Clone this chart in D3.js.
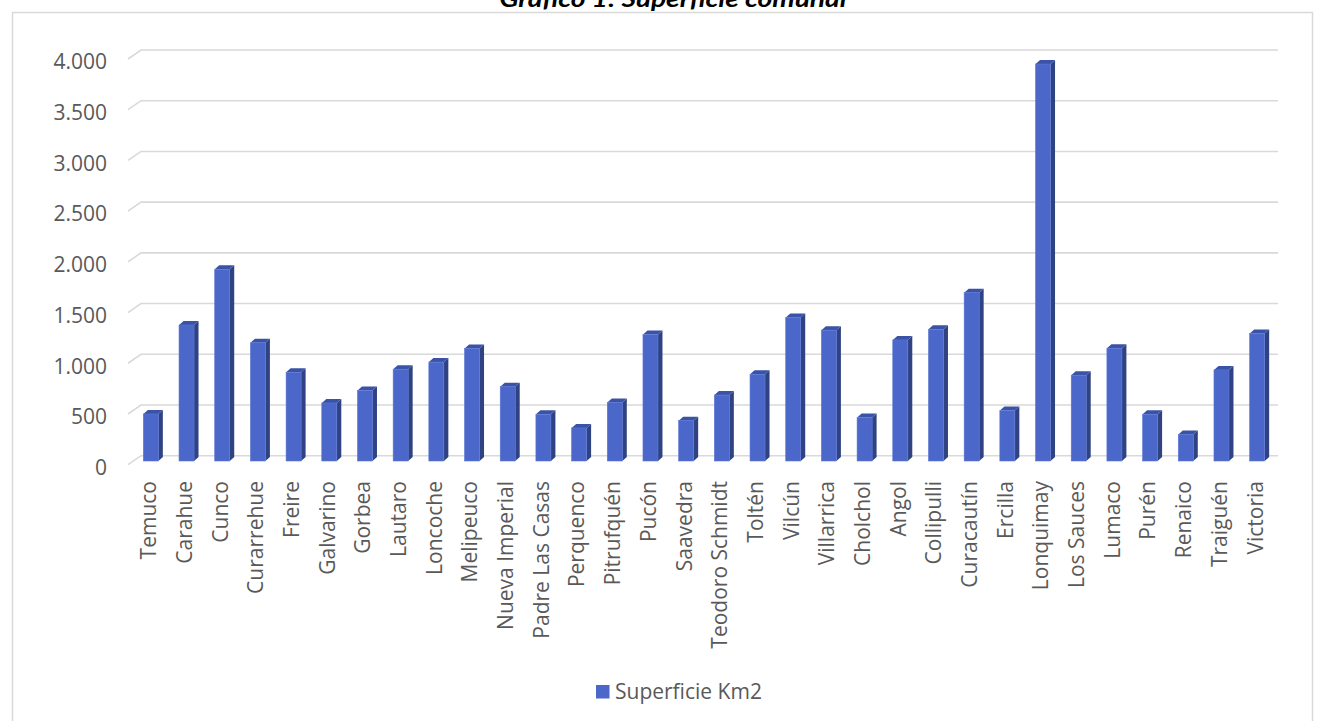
<!DOCTYPE html>
<html><head><meta charset="utf-8">
<script src="https://cdn.jsdelivr.net/npm/d3@7"></script>
<style>
html,body{margin:0;padding:0;background:#fff;}
svg{display:block;font-family:"Open Sans",sans-serif;}
</style></head>
<body>
<svg id="chart" width="1324" height="721"></svg>
<script>
const chartTitle = "Gráfico 1: Superficie comunal";
const seriesName = "Superficie Km2";
const categories = ["Temuco","Carahue","Cunco","Curarrehue","Freire","Galvarino","Gorbea","Lautaro","Loncoche","Melipeuco","Nueva Imperial","Padre Las Casas","Perquenco","Pitrufquén","Pucón","Saavedra","Teodoro Schmidt","Toltén","Vilcún","Villarrica","Cholchol","Angol","Collipulli","Curacautín","Ercilla","Lonquimay","Los Sauces","Lumaco","Purén","Renaico","Traiguén","Victoria"];
const values = [464,1341,1890,1165,875,572,694,905,975,1109,733,460,326,578,1246,398,650,855,1415,1290,428,1194,1298,1660,497,3914,846,1112,460,262,898,1257];
const yTicks = [0,500,1000,1500,2000,2500,3000,3500,4000];
const yTickLabels = ["0","500","1.000","1.500","2.000","2.500","3.000","3.500","4.000"];

const svg = d3.select("#chart");
const W = 1324, H = 721;

// chart area border
svg.append("rect").attr("x",12.5).attr("y",12.5).attr("width",1300).attr("height",730)
  .attr("fill","none").attr("stroke","#d9d9d9").attr("stroke-width",1.5);

// title (partially clipped at top)
svg.append("text").attr("x",673).attr("y",7).attr("text-anchor","middle")
  .attr("font-family","Lato, 'Open Sans', sans-serif").attr("font-weight","bold").attr("font-style","italic")
  .attr("font-size",22).attr("fill","#000")
  .attr("textLength",347).attr("lengthAdjust","spacingAndGlyphs")
  .text(chartTitle);

// scales
const x = d3.scaleBand().domain(categories).range([133, 1275]).paddingInner(0).paddingOuter(0);
const yBack = d3.scaleLinear().domain([0,4000]).range([455.7, 50]);
const floorDx = 13, floorDy = 9;   // front edge of floor relative to back wall
const barPlaneDy = 5.3;             // bar front plane offset from back wall
const barW = 15, depthX = 4.5, depthY = 4;
const gridLeft = 141, gridRight = 1278;

// gridlines with perspective stub on the left
const grid = svg.append("g");
yTicks.forEach(t => {
  const yy = yBack(t);
  grid.append("path")
    .attr("d", `M${gridLeft - floorDx},${yy + floorDy}L${gridLeft},${yy}L${gridRight},${yy}`)
    .attr("fill","none").attr("stroke","#d9d9d9").attr("stroke-width",1.6);
});

// y labels
svg.append("g").selectAll("text").data(yTicks).join("text")
  .attr("x",107).attr("y",d => yBack(d) + floorDy + 3).attr("dy","0.35em")
  .attr("text-anchor","end").attr("font-size",21).attr("fill","#595959")
  .text((d,i) => yTickLabels[i]);

// bars (3D)
const yBar = v => yBack(v) + barPlaneDy;
const y0 = yBar(0);
const bars = svg.append("g");
categories.forEach((c,i) => {
  const cx = x(c) + x.bandwidth()/2;
  const x0 = cx - barW/2, x1 = cx + barW/2;
  const top = yBar(values[i]);
  // side face
  bars.append("path")
    .attr("d", `M${x1},${top}L${x1+depthX},${top-depthY}L${x1+depthX},${y0-depthY}L${x1},${y0}Z`)
    .attr("fill","#2f4382");
  // top face
  bars.append("path")
    .attr("d", `M${x0},${top}L${x0+depthX},${top-depthY}L${x1+depthX},${top-depthY}L${x1},${top}Z`)
    .attr("fill","#3a53a6");
  // front face
  bars.append("rect").attr("x",x0).attr("y",top).attr("width",barW).attr("height",y0-top)
    .attr("fill","#4b67c9").attr("stroke","#5b77d6").attr("stroke-width",0.6);
});

// category labels
svg.append("g").selectAll("text").data(categories).join("text")
  .attr("transform", d => `translate(${x(d) + x.bandwidth()/2 - 2},481) rotate(-90)`)
  .attr("dy","0.35em").attr("text-anchor","end")
  .attr("font-size",21).attr("fill","#595959")
  .text(d => d);

// legend
const lg = svg.append("g");
lg.append("rect").attr("x",596).attr("y",685).attr("width",13.5).attr("height",13.5).attr("fill","#4b67c9");
lg.append("text").attr("x",615).attr("y",692).attr("dy","0.35em").attr("font-size",21).attr("fill","#595959").text(seriesName);
</script>
</body></html>
